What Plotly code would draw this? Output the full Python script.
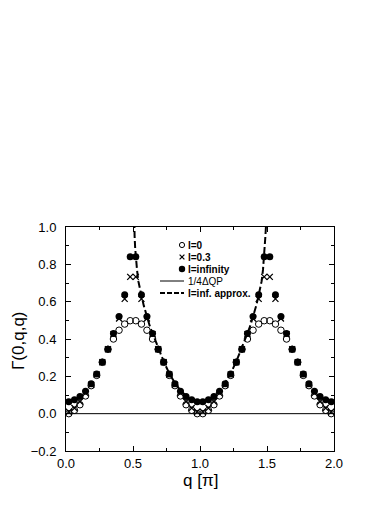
import plotly.graph_objects as go

# q grid in units of pi (48 points, midpoints)
q_pts = [
    0.021, 0.063, 0.104, 0.146, 0.188, 0.229, 0.271, 0.313, 0.354, 0.396, 0.438, 0.479,
    0.521, 0.563, 0.604, 0.646, 0.688, 0.729, 0.771, 0.813, 0.854, 0.896, 0.938, 0.979,
    1.021, 1.063, 1.104, 1.146, 1.188, 1.229, 1.271, 1.313, 1.354, 1.396, 1.438, 1.479,
    1.521, 1.563, 1.604, 1.646, 1.688, 1.729, 1.771, 1.813, 1.854, 1.896, 1.938, 1.979,
]

gamma_l0 = [
    0.0, 0.018, 0.048, 0.095, 0.15, 0.205, 0.275, 0.345, 0.40, 0.447, 0.48, 0.498,
    0.498, 0.48, 0.447, 0.40, 0.345, 0.275, 0.205, 0.15, 0.095, 0.048, 0.018, 0.0,
    0.0, 0.018, 0.048, 0.095, 0.15, 0.205, 0.275, 0.345, 0.40, 0.447, 0.48, 0.498,
    0.498, 0.48, 0.447, 0.40, 0.345, 0.275, 0.205, 0.15, 0.095, 0.048, 0.018, 0.0,
]

gamma_l03 = [
    0.01, 0.03, 0.065, 0.11, 0.155, 0.21, 0.275, 0.345, 0.425, 0.51, 0.615, 0.733,
    0.733, 0.615, 0.51, 0.425, 0.345, 0.275, 0.21, 0.155, 0.11, 0.065, 0.03, 0.01,
    0.01, 0.03, 0.065, 0.11, 0.155, 0.21, 0.275, 0.345, 0.425, 0.51, 0.615, 0.733,
    0.733, 0.615, 0.51, 0.425, 0.345, 0.275, 0.21, 0.155, 0.11, 0.065, 0.03, 0.01,
]

gamma_linf = [
    0.064, 0.074, 0.092, 0.12, 0.16, 0.213, 0.277, 0.345, 0.43, 0.52, 0.637, 0.84,
    0.84, 0.637, 0.52, 0.43, 0.345, 0.277, 0.213, 0.16, 0.12, 0.092, 0.074, 0.064,
    0.064, 0.074, 0.092, 0.12, 0.16, 0.213, 0.277, 0.345, 0.43, 0.52, 0.637, 0.84,
    0.84, 0.637, 0.52, 0.43, 0.345, 0.277, 0.213, 0.16, 0.12, 0.092, 0.074, 0.064,
]

# l=inf. approx. curve (diverges near q=0.5 and q=1.5)
approx_q = [
    0.503, 0.508, 0.512, 0.516, 0.521, 0.53, 0.54, 0.55, 0.5625, 0.58, 0.604, 0.625,
    0.646, 0.6875, 0.729, 0.771, 0.8125, 0.854, 0.896, 0.9375, 0.979, 1.0,
    1.021, 1.0625, 1.104, 1.146, 1.1875, 1.229, 1.271, 1.3125, 1.354, 1.375, 1.396,
    1.42, 1.4375, 1.45, 1.46, 1.47, 1.479, 1.484, 1.488, 1.492, 1.497,
]
approx_v = [
    1.3, 1.0, 0.95, 0.89, 0.84, 0.77, 0.71, 0.67, 0.635, 0.58, 0.52, 0.47,
    0.43, 0.35, 0.28, 0.215, 0.165, 0.125, 0.095, 0.075, 0.066, 0.064,
    0.066, 0.075, 0.095, 0.125, 0.165, 0.215, 0.28, 0.35, 0.43, 0.47, 0.52,
    0.58, 0.635, 0.67, 0.71, 0.77, 0.84, 0.89, 0.95, 1.0, 1.3,
]

legend_labels = ["l=0", "l=0.3", "l=infinity", "1/4\u0394QP", "l=inf. approx."]

FONT = "Liberation Sans, Arial, sans-serif"

# page has an 8px body margin, so work in page pixels and subtract it
PAGE = 8
L, R, T, B = 66, 334, 227, 451
W, H = 392 - PAGE, 508 - PAGE


def px2x(px):
    return (px - L) / (R - L)


def py2y(py):
    return (B - py) / (B - T)


fig = go.Figure()

fig.add_trace(go.Scatter(
    x=q_pts, y=gamma_l0, mode="markers", name=legend_labels[0],
    marker=dict(symbol="circle-open", size=6.5, color="black", line=dict(width=1)),
))
fig.add_trace(go.Scatter(
    x=q_pts, y=gamma_l03, mode="markers", name=legend_labels[1],
    marker=dict(symbol="x-thin-open", size=6, color="black", line=dict(width=1.3, color="black")),
))
fig.add_trace(go.Scatter(
    x=q_pts, y=gamma_linf, mode="markers", name=legend_labels[2],
    marker=dict(symbol="circle", size=7, color="black"),
))
fig.add_trace(go.Scatter(
    x=approx_q, y=approx_v, mode="lines", name=legend_labels[4],
    line=dict(color="black", width=2, dash="7px,3px"),
))

# hand-made legend (compact spacing like the original)
shapes = []
annotations = []
rows = [245, 257, 269, 281, 293]
mx = 182
r = 2.6
shapes.append(dict(type="circle", xref="paper", yref="paper",
                   x0=px2x(mx - r), x1=px2x(mx + r), y0=py2y(rows[0] + r), y1=py2y(rows[0] - r),
                   line=dict(color="black", width=1), fillcolor="rgba(0,0,0,0)"))
c = 2.4
shapes.append(dict(type="line", xref="paper", yref="paper",
                   x0=px2x(mx - c), x1=px2x(mx + c), y0=py2y(rows[1] + c), y1=py2y(rows[1] - c),
                   line=dict(color="black", width=1.2)))
shapes.append(dict(type="line", xref="paper", yref="paper",
                   x0=px2x(mx - c), x1=px2x(mx + c), y0=py2y(rows[1] - c), y1=py2y(rows[1] + c),
                   line=dict(color="black", width=1.2)))
r2 = 3.2
shapes.append(dict(type="circle", xref="paper", yref="paper",
                   x0=px2x(mx - r2), x1=px2x(mx + r2), y0=py2y(rows[2] + r2), y1=py2y(rows[2] - r2),
                   line=dict(color="black", width=0), fillcolor="black"))
shapes.append(dict(type="line", xref="paper", yref="paper",
                   x0=px2x(160), x1=px2x(184), y0=py2y(rows[3]), y1=py2y(rows[3]),
                   line=dict(color="black", width=1)))
shapes.append(dict(type="line", xref="paper", yref="paper",
                   x0=px2x(160), x1=px2x(184), y0=py2y(rows[4]), y1=py2y(rows[4]),
                   line=dict(color="black", width=2, dash="5px,2px")))

for i, lab in enumerate(legend_labels):
    bold = i != 3
    annotations.append(dict(
        xref="paper", yref="paper", x=px2x(187), y=py2y(rows[i]),
        xanchor="left", yanchor="middle", showarrow=False, borderpad=0,
        text=f"<b>{lab}</b>" if bold else lab,
        font=dict(family=FONT, size=10, color="black"),
    ))

# axis titles
annotations.append(dict(
    xref="paper", yref="paper", x=0.5, y=py2y(480),
    xanchor="center", yanchor="middle", showarrow=False,
    text="q [\u03c0]", font=dict(family=FONT, size=17, color="black"),
))
annotations.append(dict(
    xref="paper", yref="paper", x=px2x(18), y=py2y(341),
    xanchor="center", yanchor="middle", showarrow=False, textangle=-90, borderpad=0,
    text="\u0393(0,q,q)", font=dict(family=FONT, size=17, color="black"),
))

axis_common = dict(
    showline=True, linecolor="black", linewidth=1, mirror="allticks",
    ticks="inside", ticklen=5, tickwidth=1, tickcolor="black",
    showgrid=False, zeroline=False,
    tickfont=dict(family=FONT, size=13, color="black"),
)

fig.update_layout(
    width=W, height=H,
    margin=dict(l=L - PAGE, r=W - (R - PAGE), t=T - PAGE, b=H - (B - PAGE)),
    paper_bgcolor="white", plot_bgcolor="white",
    showlegend=False,
    shapes=shapes,
    annotations=annotations,
    xaxis=dict(
        **axis_common, range=[0, 2], tickvals=[0, 0.5, 1.0, 1.5, 2.0],
        ticktext=["0.0", "0.5", "1.0", "1.5", "2.0"],
        minor=dict(dtick=0.25, ticks="inside", ticklen=3, tickcolor="black"),
        ticklabelstandoff=0,
    ),
    yaxis=dict(
        **axis_common, range=[-0.2, 1.0], tickvals=[-0.2, 0, 0.2, 0.4, 0.6, 0.8, 1.0],
        ticktext=["\u22120.2", "0.0", "0.2", "0.4", "0.6", "0.8", "1.0"],
        minor=dict(dtick=0.1, ticks="inside", ticklen=3, tickcolor="black"),
        ticklabelstandoff=6,
    ),
    font=dict(family=FONT, color="black"),
)

# 1/4 dQP solid line, drawn along zero
fig.add_hline(y=0, line=dict(color="black", width=1))

fig.write_html("out.html")
